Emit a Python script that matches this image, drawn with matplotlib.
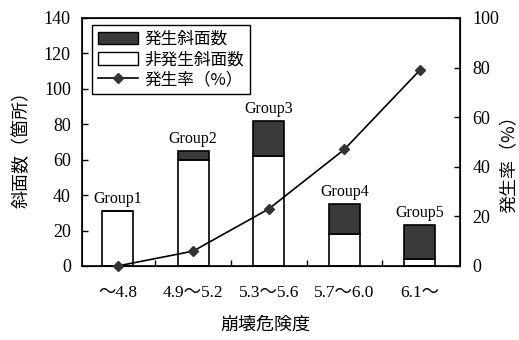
import numpy as np
import matplotlib
matplotlib.use('Agg')
import matplotlib.pyplot as plt
from matplotlib.patches import Patch
from matplotlib.lines import Line2D

plt.rcParams['font.family'] = ['Liberation Serif', 'Noto Sans CJK JP']

# 崩壊危険度ごとの斜面数と発生率
categories = ['～4.8', '4.9～5.2', '5.3～5.6', '5.7～6.0', '6.1～']
groups = ['Group1', 'Group2', 'Group3', 'Group4', 'Group5']
failed = [0, 5, 20, 17, 19]          # 発生斜面数
not_failed = [31, 60, 62, 18, 4]     # 非発生斜面数
rate = [0, 6, 23, 47, 79]            # 発生率(%)

jp = ['Noto Sans CJK JP', 'Liberation Serif']
dark = '#3a3a3a'

fig = plt.figure(figsize=(5.19, 3.40), dpi=100)
ax = fig.add_axes([82/519, 74/340, 378/519, 248/340])

x = np.arange(len(categories))
w = 0.41
ax.bar(x, not_failed, width=w, color='white', edgecolor='black', linewidth=1.2, zorder=2)
ax.bar(x, failed, width=w, bottom=not_failed, color=dark, edgecolor='black',
       linewidth=1.2, zorder=2)

totals = np.array(failed) + np.array(not_failed)
for xi, t, g in zip(x, totals, groups):
    ax.annotate(g, (xi, t), xytext=(0, 3), textcoords='offset points',
                ha='center', va='bottom', fontsize=11.5)

ax.set_xlim(-0.47, 4.53)
ax.set_ylim(0, 140)
ax.set_yticks(np.arange(0, 141, 20))
ax.set_xticks(x)
ax.set_xticklabels(categories)
ax.set_xticks([0.5, 1.5, 2.5, 3.5], minor=True)
ax.tick_params(axis='x', which='major', length=0, pad=14, labelsize=12.5)
ax.tick_params(axis='x', which='minor', direction='in', length=4, width=1)
ax.tick_params(axis='y', direction='in', length=4, width=1, pad=8, labelsize=13)
for s in ax.spines.values():
    s.set_linewidth(1.2)

ax2 = ax.twinx()
ax2.plot(x, rate, color='black', linewidth=1.2, marker='D', markersize=5,
         markerfacecolor='#333333', markeredgecolor='#333333', clip_on=False, zorder=3)
ax2.set_ylim(0, 100)
ax2.set_yticks(np.arange(0, 101, 20))
ax2.tick_params(axis='y', direction='in', length=4, width=1, pad=9, labelsize=13)

handles = [Patch(facecolor=dark, edgecolor='black', linewidth=1),
           Patch(facecolor='white', edgecolor='black', linewidth=1),
           Line2D([], [], color='black', linewidth=1.2, marker='D', markersize=5,
                  markerfacecolor='#333333', markeredgecolor='#333333')]
labels = ['発生斜面数', '非発生斜面数', '発生率（%）']
leg = ax2.legend(handles, labels, loc='upper left', bbox_to_anchor=(0.026, 0.972),
                 frameon=True, fancybox=False, edgecolor='black', framealpha=1,
                 handlelength=2.4, handleheight=0.8, borderpad=0.35, labelspacing=0.2,
                 handletextpad=0.4, borderaxespad=0,
                 prop={'family': jp, 'size': 12})
leg.get_frame().set_linewidth(1)

fig.text(265/519, 1 - 325/340, '崩壊危険度', ha='center', va='center',
         fontsize=13, family=jp)
fig.text(22/519, 1 - 145/340, '斜面数（箇所）', ha='center', va='center',
         rotation=90, fontsize=13, family=jp)
fig.text(510/519, 1 - 160/340, '発生率（%）', ha='center', va='center',
         rotation=90, fontsize=13, family=jp)

fig.savefig('out.png', dpi=100)
